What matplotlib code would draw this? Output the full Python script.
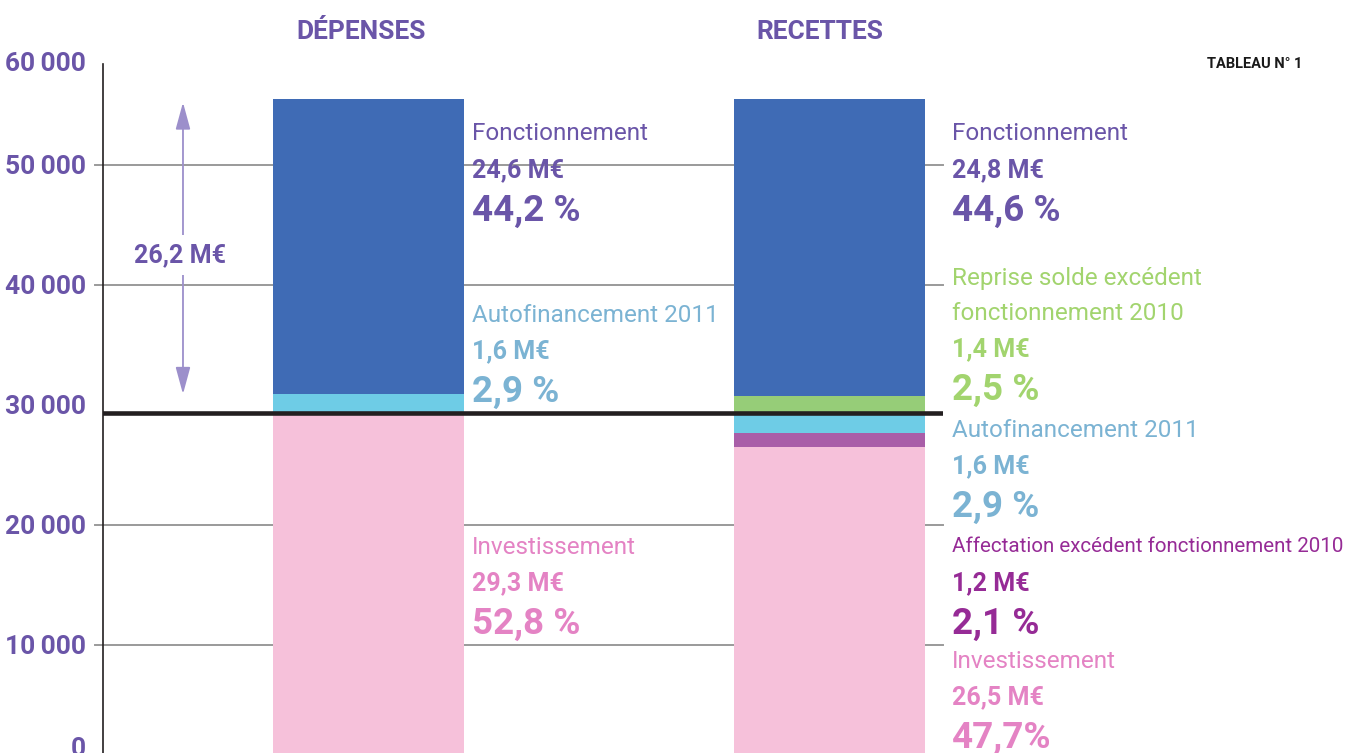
import matplotlib.pyplot as plt
import matplotlib.transforms as mtransforms
import numpy as np

# values in k€ (stack order: bottom -> top)
dep_labels = ['Investissement', 'Autofinancement 2011', 'Fonctionnement']
dep_values = np.array([29300, 1600, 24600])
dep_pct = ['52,8 %', '2,9 %', '44,2 %']

rec_labels = ['Investissement', 'Affectation excédent fonctionnement 2010',
              'Autofinancement 2011', 'Reprise solde excédent\nfonctionnement 2010',
              'Fonctionnement']
rec_values = np.array([26500, 1200, 1600, 1400, 24800])
rec_pct = ['47,7%', '2,1 %', '2,9 %', '2,5 %', '44,6 %']

columns = ['DÉPENSES', 'RECETTES']
yticks = [0, 10000, 20000, 30000, 40000, 50000]
ytick_labels = ['0', '10\u2009000', '20\u2009000', '30\u2009000', '40\u2009000', '50\u2009000']

# colours
PURPLE = '#6A55A8'
bar_col = {'Fonctionnement': '#3F6BB5', 'Autofinancement 2011': '#6ECCE6',
           'Investissement': '#F6C1DA', 'Reprise solde excédent\nfonctionnement 2010': '#96CD78',
           'Affectation excédent fonctionnement 2010': '#A95EA8'}
txt_col = {'Fonctionnement': PURPLE, 'Autofinancement 2011': '#7BB3D3',
           'Investissement': '#E483C4', 'Reprise solde excédent\nfonctionnement 2010': '#A2D46E',
           'Affectation excédent fonctionnement 2010': '#962B96'}

plt.rcParams['font.family'] = ['Roboto', 'DejaVu Sans']

W, H = 1352, 753
fig = plt.figure(figsize=(W / 100, H / 100), dpi=100)
ax = fig.add_axes([103 / W, (H - 765) / H, 840 / W, 701 / H])

def fig_text(x, y, s, **kw):
    fig.text(x / W, 1 - y / H, s, **kw)

# gridlines
for g in [10000, 20000, 40000, 50000]:
    ax.axhline(g, xmin=-0.0095, xmax=1, color='#9A9A9A', lw=1.4, zorder=1, clip_on=False)

# bars
width = 0.414
bottom = 0
for lab, v in zip(dep_labels, dep_values):
    ax.bar(0, v, width, bottom=bottom, color=bar_col[lab], zorder=2)
    bottom += v
bottom = 0
for lab, v in zip(rec_labels, rec_values):
    ax.bar(1, v, width, bottom=bottom, color=bar_col[lab], zorder=2)
    bottom += v

# thick black line at the investment total
ax.axhline(dep_values[0], color='#231F20', lw=3.3, zorder=3)

# arrow showing fonctionnement + autofinancement
lo = dep_values[0] + dep_values[1]
hi = dep_values.sum()
ax.annotate('', xy=(-0.4025, hi - 300), xytext=(-0.4025, lo),
            arrowprops=dict(arrowstyle='<|-|>,head_width=0.3,head_length=1.1',
                            mutation_scale=15, color='#9C8FCB', lw=1.3,
                            shrinkA=0, shrinkB=0), zorder=4)
tot = (dep_values[1] + dep_values[2]) / 1000
ax.text(-0.41, 42500, f'{tot:.1f}'.replace('.', ',') + ' M€', color=PURPLE,
        fontsize=18, fontweight='bold', ha='center', va='center', zorder=5,
        bbox=dict(facecolor='white', edgecolor='none', pad=6))

ax.set_xlim(-0.576, 1.246)
ax.set_ylim(0, 58400)
ax.set_xticks([])
ax.set_yticks(yticks)
ax.set_yticklabels(ytick_labels, color=PURPLE, fontsize=19, fontweight='bold')
ax.tick_params(axis='y', length=0, pad=12)
# the "0" label sits a little higher in the source, partly cut by the page edge
lab0 = ax.get_yticklabels()[0]
lab0.set_transform(lab0.get_transform() + mtransforms.ScaledTranslation(0, 18 / 100, fig.dpi_scale_trans))
for s in ['top', 'right', 'bottom']:
    ax.spines[s].set_visible(False)
ax.spines['left'].set_color('#231F20')
ax.spines['left'].set_linewidth(1.2)
ax.text(-0.0205, 1.0, '60\u2009000', transform=ax.transAxes, color=PURPLE,
        fontsize=19, fontweight='bold', ha='right', va='center')

# column headers
fig_text(361, 32, columns[0], color=PURPLE, fontsize=19, fontweight='bold', ha='center', va='center')
fig_text(820, 32, columns[1], color=PURPLE, fontsize=19, fontweight='bold', ha='center', va='center')
fig_text(1255, 64, 'TABLEAU N° 1', color='#1A1A1A', fontsize=10.5, fontweight='bold',
         ha='center', va='center')

def label_block(x, y_first, lab, v, pct):
    c = txt_col[lab]
    lines = lab.split('\n')
    size = 14.8 if lab.startswith('Affectation') else 17.5
    for i, line in enumerate(lines):
        fig_text(x, y_first + 35 * i, line, color=c, fontsize=size, ha='left', va='center')
    y_amt = y_first + 35 * (len(lines) - 1) + 36
    fig_text(x, y_amt, f'{v / 1000:.1f}'.replace('.', ',') + ' M€', color=c,
             fontsize=18, fontweight='bold', ha='left', va='center')
    fig_text(x, y_amt + 41, pct, color=c, fontsize=26.5, fontweight='bold', ha='left', va='center')

# y of first name line for each segment
dep_name_y = [547, 315, 134]
for lab, v, p, y in zip(dep_labels, dep_values, dep_pct, dep_name_y):
    label_block(472, y, lab, v, p)

rec_name_y = [661, 547, 430, 278, 134]
for lab, v, p, y in zip(rec_labels, rec_values, rec_pct, rec_name_y):
    label_block(952, y, lab, v, p)

fig.savefig('out.png', dpi=100, facecolor='white')
